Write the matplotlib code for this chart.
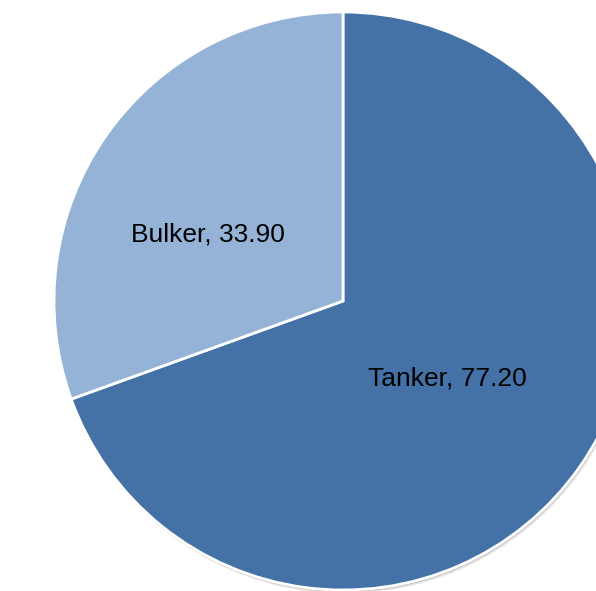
import numpy as np
import matplotlib.pyplot as plt

# Dados
categorias = ['Tanker', 'Bulker']
valores = [77.20, 33.90]
cores = ['#4472a7', '#95b3d7']

plt.rcParams['font.family'] = ['Liberation Sans', 'DejaVu Sans']

fig = plt.figure(figsize=(5.96, 5.91), dpi=100)
ax = fig.add_axes([0, 0, 1, 1])

centro = (343, 290)
raio = 289

# sombra suave
for k, a in [(4, 0.05), (3, 0.08), (2, 0.12)]:
    ax.pie(valores, colors=['#000000'] * 2, startangle=90, counterclock=False,
           radius=raio, center=(centro[0] + k * 0.5, centro[1] - k),
           wedgeprops=dict(alpha=a, linewidth=0), frame=True)

wedges, _ = ax.pie(valores, colors=cores, startangle=90, counterclock=False,
                   radius=raio, center=centro, frame=True,
                   wedgeprops=dict(edgecolor='white', linewidth=2))

ax.set_xlim(0, 596)
ax.set_ylim(0, 591)
ax.set_aspect('equal')
ax.axis('off')

# rótulos
dist = {'Tanker': 0.45, 'Bulker': 0.52}
ajuste = {'Tanker': -1.5, 'Bulker': 9}
for w, nome, v in zip(wedges, categorias, valores):
    ang = np.deg2rad((w.theta1 + w.theta2) / 2 + ajuste[nome])
    r = raio * dist[nome]
    ax.text(centro[0] + r * np.cos(ang), centro[1] + r * np.sin(ang),
            f'{nome}, {v:.2f}', ha='center', va='center', fontsize=19, color='black')

fig.savefig('out.png', dpi=100)
